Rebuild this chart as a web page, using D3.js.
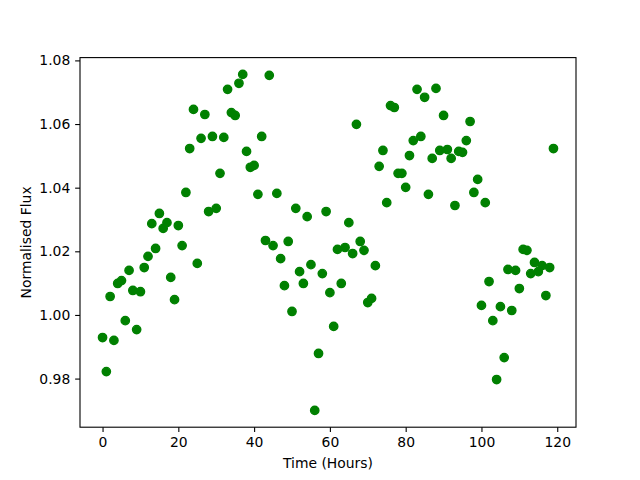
<!DOCTYPE html>
<html><head><meta charset="utf-8">
<script src="https://cdn.jsdelivr.net/npm/d3@7"></script>
<style>body{margin:0;background:#fff}svg{display:block}text{font-family:"DejaVu Sans",sans-serif}</style>
</head><body>
<svg id="c" width="640" height="480"></svg>
<script>
const hours = d3.range(0, 120);
const flux = [
0.9929,0.9822,1.0058,0.9920,1.0099,1.0108,0.9982,1.0140,1.0077,0.9954,
1.0073,1.0149,1.0184,1.0287,1.0209,1.0319,1.0272,1.0290,1.0118,1.0048,
1.0281,1.0218,1.0385,1.0523,1.0646,1.0162,1.0555,1.0630,1.0325,1.0561,
1.0335,1.0445,1.0558,1.0709,1.0636,1.0627,1.0728,1.0756,1.0514,1.0464,
1.0470,1.0379,1.0561,1.0234,1.0753,1.0218,1.0382,1.0177,1.0092,1.0231,
1.0011,1.0335,1.0136,1.0099,1.0309,1.0158,0.9700,0.9879,1.0130,1.0325,
1.0070,0.9964,1.0206,1.0099,1.0212,1.0290,1.0193,1.0599,1.0231,1.0203,
1.0039,1.0052,1.0155,1.0467,1.0517,1.0353,1.0658,1.0652,1.0445,1.0445,
1.0401,1.0501,1.0548,1.0709,1.0561,1.0684,1.0379,1.0492,1.0712,1.0517,
1.0627,1.0520,1.0492,1.0344,1.0514,1.0511,1.0548,1.0608,1.0385,1.0426,
1.0030,1.0353,1.0105,0.9982,0.9797,1.0026,0.9866,1.0143,1.0014,1.0140,
1.0083,1.0206,1.0203,1.0130,1.0165,1.0136,1.0155,1.0061,1.0149,1.0523];
const xTicks = [0,20,40,60,80,100,120];
const yTicks = [0.98,1.00,1.02,1.04,1.06,1.08];
const xLabel = "Time (Hours)";
const yLabel = "Normalised Flux";

const L=80,R=576,T=57.6,B=427.2;
const svg=d3.select("#c");
const xe=d3.extent(hours), ye=d3.extent(flux);
const xm=(xe[1]-xe[0])*0.05, ym=(ye[1]-ye[0])*0.05;
const x=d3.scaleLinear().domain([xe[0]-xm,xe[1]+xm]).range([L,R]);
const y=d3.scaleLinear().domain([ye[0]-ym,ye[1]+ym]).range([B,T]);

const g=svg.append("g");
g.selectAll("circle").data(hours).enter().append("circle")
 .attr("cx",(d)=>x(d)).attr("cy",(d,i)=>y(flux[i])).attr("r",4.17)
 .attr("fill","#008000").attr("stroke","#008000").attr("stroke-width",1.39);

const fs="13.9px";
const xa=svg.append("g").attr("transform",`translate(0,${B})`)
 .call(d3.axisBottom(x).tickValues(xTicks).tickSize(4.86).tickPadding(4.86).tickFormat(d3.format("d")));
const ya=svg.append("g").attr("transform",`translate(${L},0)`)
 .call(d3.axisLeft(y).tickValues(yTicks).tickSize(4.86).tickPadding(4.86).tickFormat(d3.format(".2f")));
[xa,ya].forEach(a=>{a.select(".domain").remove();a.selectAll("line").attr("stroke","#000").attr("stroke-width",1.1);
 a.selectAll("text").attr("font-size",fs).attr("font-family","DejaVu Sans").attr("fill","#000");});
svg.append("rect").attr("x",L).attr("y",T).attr("width",R-L).attr("height",B-T)
 .attr("fill","none").attr("stroke","#000").attr("stroke-width",1.1);
svg.append("text").attr("x",(L+R)/2).attr("y",468).attr("text-anchor","middle").attr("font-size",fs).text(xLabel);
svg.append("text").attr("transform",`translate(31,${(T+B)/2}) rotate(-90)`).attr("text-anchor","middle").attr("font-size",fs).text(yLabel);
</script>
</body></html>
